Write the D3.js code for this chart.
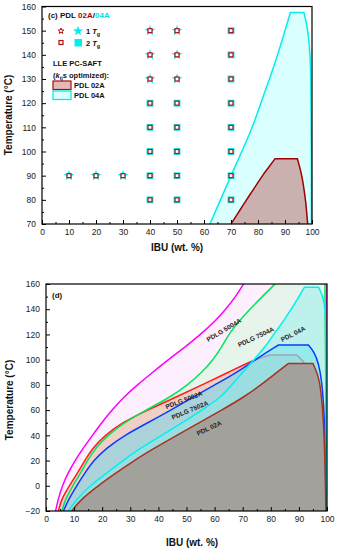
<!DOCTYPE html>
<html>
<head>
<meta charset="utf-8">
<script src="https://cdn.jsdelivr.net/npm/d3@7"></script>
<style>
  body { margin: 0; background: #fff; }
  text { font-family: "Liberation Sans", Arial, sans-serif; }
  .axis text { font-size: 8.5px; fill: #222; font-family: "Liberation Sans", Arial, sans-serif; }
  .axis line { stroke: #000; stroke-width: 1; }
  .axis path { display: none; }
</style>
</head>
<body>
<svg id="chart" width="337" height="550"></svg>
<script>
// ---- panel (c) data ----
const cXTicks = [0, 10, 20, 30, 40, 50, 60, 70, 80, 90, 100];
const cYTicks = [70, 80, 90, 100, 110, 120, 130, 140, 150, 160];
// experimental points: PDL 04A (cyan), PDL 02A (dark red)
const star04 = [[10, 90], [20, 90], [30, 90], [40, 130], [40, 140], [40, 150], [50, 130], [50, 140], [50, 150]];
const square04 = [[40, 80], [40, 90], [40, 100], [40, 110], [40, 120],
  [50, 80], [50, 90], [50, 100], [50, 110], [50, 120],
  [70, 80], [70, 90], [70, 100], [70, 110], [70, 120], [70, 130], [70, 140], [70, 150]];
const square02 = star04.concat(square04);
// LLE PC-SAFT boundaries [IBU wt%, T]: left branch and right branch (flat top joins them)
const c02Left = [[70, 70], [72.3, 74], [74.6, 78], [76.9, 82], [79.3, 86], [81.6, 90], [84, 93.5], [86.3, 97]];
const c02Right = [[94.6, 97], [95.6, 93], [96.4, 89], [97.1, 84], [97.7, 79], [98.1, 74], [98.4, 70]];
const c04Left = [[62.2, 70], [66.1, 80], [70, 90], [74, 100], [78, 110], [81, 120], [84.3, 130], [87.3, 140], [90, 150], [92, 157.5]];
const c04Right = [[97, 157.5], [98, 153], [98.8, 147], [99.3, 140], [99.6, 130], [99.75, 110], [99.8, 70]];

// ---- panel (d) data ----
const dXTicks = [0, 10, 20, 30, 40, 50, 60, 70, 80, 90, 100];
const dYTicks = [-20, 0, 20, 40, 60, 80, 100, 120, 140, 160];
const d5004Left = [[3.4, -20], [4.4, -10], [5.8, 0], [7.8, 10], [10.3, 20], [13.3, 30], [16.5, 40], [19.8, 50], [23.5, 60], [27.5, 70], [32.5, 80],
  [38, 90], [43.5, 100], [49.5, 110], [55, 120], [60, 130], [64, 140], [67.5, 150], [70.3, 160]];
const d7504Left = [[5.6, -20], [7, -10], [9.5, 0], [12.3, 10], [14.7, 20], [17.6, 30], [22, 40], [27.8, 50], [35.5, 60], [44, 70], [50.5, 80],
  [55.5, 90], [59.5, 100], [62.5, 110], [65, 120], [68.5, 130], [72.5, 140], [77, 150], [81.5, 160]];
const d5002Left = [[4.4, -20], [5.6, -10], [8.3, 0], [11.2, 10], [13.8, 20], [16.6, 30], [21, 40], [27, 50], [36, 60], [46, 70], [55.5, 80],
  [65, 90], [74, 100], [79.7, 103.7]];
const d5002Right = [[89.2, 103.7], [92.5, 97], [95.1, 84], [97.5, 60], [99, 20], [99.5, -20]];
const d7502Left = [[6.2, -20], [8.2, -10], [10.9, 0], [13.8, 10], [16.9, 20], [21.6, 30], [27.9, 40], [36.2, 50], [44.5, 60], [52, 70], [60, 80],
  [68, 90], [74.5, 100], [82.7, 111.6]];
const d7502Right = [[93.4, 111.6], [95.5, 106], [97, 97], [98.1, 84], [99, 60], [99.5, 20], [99.7, -20]];
const d04Left = [[7.9, -20], [11.2, -10], [15.6, 0], [21.6, 10], [27.3, 20], [33.7, 30], [41.2, 40], [48.6, 50], [55.5, 60], [62.2, 70], [66.1, 80],
  [70, 90], [74, 100], [78, 110], [81, 120], [84.3, 130], [87.3, 140], [90, 150], [92, 157.5]];
const d04Right = [[97, 157.5], [98, 153], [98.8, 147], [99.3, 140], [99.6, 130], [99.75, 100], [99.8, -20]];
const d02Left = [[9.1, -20], [12.8, -10], [18.5, 0], [24.8, 10], [31.3, 20], [38.7, 30], [46.5, 40], [54.5, 50], [62.5, 60], [70.2, 70], [76.5, 80],
  [82.2, 90], [86.3, 97]];
const d02Right = [[95, 97], [96.4, 90], [97.3, 83], [98, 72], [98.8, 50], [99.3, 20], [99.6, -20]];
const curveNames = ['PDLG 5004A', 'PDLG 7504A', 'PDL 04A', 'PDLG 5002A', 'PDLG 7502A', 'PDL 02A'];
// label anchor in data units + rotation
const curveLabelPos = [[63.3, 123.5, -31], [74.7, 118, -25], [87.9, 120.4, -27], [49.1, 68, -21], [51.2, 60, -23], [58, 45.8, -25]];

const svg = d3.select('#chart');

const xc = d3.scaleLinear().domain([0, 100]).range([42, 312]);
const yc = d3.scaleLinear().domain([70, 160]).range([224, 6.5]);
const xd = d3.scaleLinear().domain([0, 100]).range([46, 327]);
const yd = d3.scaleLinear().domain([-20, 160]).range([511, 284]);

function curvePath(pts, x, y) {
  return d3.line().x(d => x(d[0])).y(d => y(d[1])).curve(d3.curveBasis)(pts);
}
// left branch + flat top + right branch
function domePath(left, right, x, y) {
  let p = curvePath(left, x, y);
  if (right) p += curvePath(right, x, y).replace(/^M/, 'L');
  return p;
}

function starPath(r) {
  let p = [];
  for (let i = 0; i < 10; i++) {
    let a = -Math.PI / 2 + i * Math.PI / 5;
    let rr = i % 2 === 0 ? r : r * 0.42;
    p.push([rr * Math.cos(a), rr * Math.sin(a)]);
  }
  return 'M' + p.map(d => d.join(',')).join('L') + 'Z';
}

function drawAxes(x, y, xTicks, yTicks, xMinorStep, yMinorStep) {
  let x0 = x.range()[0], x1 = x.range()[1];
  let y0 = y.range()[0], y1 = y.range()[1];
  let xMinor = d3.range(x.domain()[0], x.domain()[1] + 0.01, xMinorStep).filter(v => xTicks.indexOf(v) < 0);
  let yMinor = d3.range(y.domain()[0], y.domain()[1] + 0.01, yMinorStep).filter(v => yTicks.indexOf(v) < 0);

  svg.append('g').attr('class', 'axis').attr('transform', 'translate(0,' + y0 + ')')
    .call(d3.axisBottom(x).tickValues(xTicks).tickSize(-4).tickSizeOuter(0).tickPadding(5));
  svg.append('g').attr('class', 'axis').attr('transform', 'translate(0,' + y0 + ')')
    .call(d3.axisBottom(x).tickValues(xMinor).tickSize(-2).tickSizeOuter(0).tickFormat(''));
  svg.append('g').attr('class', 'axis').attr('transform', 'translate(' + x0 + ',0)')
    .call(d3.axisLeft(y).tickValues(yTicks).tickSize(-4).tickSizeOuter(0).tickPadding(6));
  svg.append('g').attr('class', 'axis').attr('transform', 'translate(' + x0 + ',0)')
    .call(d3.axisLeft(y).tickValues(yMinor).tickSize(-2).tickSizeOuter(0).tickFormat(''));

  svg.append('rect')
    .attr('x', x0).attr('y', y1)
    .attr('width', x1 - x0).attr('height', y0 - y1)
    .attr('fill', 'none').attr('stroke', '#000').attr('stroke-width', 1.2);
}

// ================= panel (c) =================
svg.append('path')
  .attr('d', domePath(c04Left, c04Right, xc, yc) + 'Z')
  .attr('fill', '#00ffff').attr('fill-opacity', 0.15);
svg.append('path')
  .attr('d', domePath(c04Left, c04Right, xc, yc))
  .attr('fill', 'none').attr('stroke', '#00eeee').attr('stroke-width', 1.5);
svg.append('path')
  .attr('d', domePath(c02Left, c02Right, xc, yc) + 'Z')
  .attr('fill', '#b01010').attr('fill-opacity', 0.33);
svg.append('path')
  .attr('d', domePath(c02Left, c02Right, xc, yc))
  .attr('fill', 'none').attr('stroke', '#a00000').attr('stroke-width', 1.5);

drawAxes(xc, yc, cXTicks, cYTicks, 5, 5);

// markers
svg.append('g').selectAll('path')
  .data(star04).join('path')
  .attr('d', starPath(5.6))
  .attr('fill', '#00f0f0')
  .attr('transform', d => 'translate(' + xc(d[0]) + ',' + yc(d[1]) + ')');
svg.append('g').selectAll('rect')
  .data(square04).join('rect')
  .attr('x', d => xc(d[0]) - 3.4).attr('y', d => yc(d[1]) - 3.4)
  .attr('width', 6.8).attr('height', 6.8)
  .attr('fill', '#00f0f0');
svg.append('g').selectAll('rect')
  .data(square02).join('rect')
  .attr('x', d => xc(d[0]) - 2).attr('y', d => yc(d[1]) - 2)
  .attr('width', 4).attr('height', 4)
  .attr('fill', '#fff').attr('stroke', '#b01010').attr('stroke-width', 1.2);

// panel (c) title
let tc = svg.append('text').attr('x', 48).attr('y', 18)
  .attr('font-size', 8).attr('font-weight', 'bold');
tc.append('tspan').attr('fill', '#111').text('(c) PDL ');
tc.append('tspan').attr('fill', '#b00000').text('02A');
tc.append('tspan').attr('fill', '#111').text('/');
tc.append('tspan').attr('fill', '#00e0e8').text('04A');

// legend
svg.append('path').attr('d', starPath(3))
  .attr('fill', '#fff').attr('stroke', '#b01010').attr('stroke-width', 1)
  .attr('transform', 'translate(61,31)');
svg.append('path').attr('d', starPath(5.2))
  .attr('fill', '#00f0f0')
  .attr('transform', 'translate(78,31)');
svg.append('rect').attr('x', 59).attr('y', 40.5).attr('width', 4).attr('height', 4)
  .attr('fill', '#fff').attr('stroke', '#b01010').attr('stroke-width', 1.2);
svg.append('rect').attr('x', 74.5).attr('y', 39).attr('width', 7.5).attr('height', 7.5)
  .attr('fill', '#00f0f0');

const tgRows = ['1 ', '2 '];
tgRows.forEach(function(lbl, i) {
  let t = svg.append('text').attr('x', 86).attr('y', 34 + i * 12)
    .attr('font-size', 7.5).attr('font-weight', 'bold').attr('fill', '#111');
  t.append('tspan').text(lbl);
  t.append('tspan').attr('font-style', 'italic').text('T');
  t.append('tspan').attr('font-size', 5.5).attr('dy', 2).text('g');
});

svg.append('text').attr('x', 53).attr('y', 66)
  .attr('font-size', 7.5).attr('font-weight', 'bold').attr('fill', '#111')
  .text('LLE PC-SAFT');
let kt = svg.append('text').attr('x', 53).attr('y', 78)
  .attr('font-size', 7.5).attr('font-weight', 'bold').attr('fill', '#111');
kt.append('tspan').text('(');
kt.append('tspan').attr('font-style', 'italic').text('k');
kt.append('tspan').attr('font-size', 5.5).attr('dy', 2).text('ij');
kt.append('tspan').attr('dy', -2).text('s optimized):');

svg.append('rect').attr('x', 53).attr('y', 81).attr('width', 18).attr('height', 8.5)
  .attr('fill', '#b01010').attr('fill-opacity', 0.3)
  .attr('stroke', '#a01010').attr('stroke-width', 1.2);
svg.append('rect').attr('x', 53).attr('y', 91).attr('width', 18).attr('height', 8.5)
  .attr('fill', '#00ffff').attr('fill-opacity', 0.15)
  .attr('stroke', '#00e8e8').attr('stroke-width', 1.2);
svg.append('text').attr('x', 74).attr('y', 88)
  .attr('font-size', 7.5).attr('font-weight', 'bold').attr('fill', '#111').text('PDL 02A');
svg.append('text').attr('x', 74).attr('y', 98)
  .attr('font-size', 7.5).attr('font-weight', 'bold').attr('fill', '#111').text('PDL 04A');

// axis titles (c)
svg.append('text').attr('transform', 'translate(12,115) rotate(-90)')
  .attr('text-anchor', 'middle').attr('font-size', 10).attr('font-weight', 'bold').attr('fill', '#111')
  .text('Temperature (°C)');
svg.append('text').attr('x', 177).attr('y', 251)
  .attr('text-anchor', 'middle').attr('font-size', 10).attr('font-weight', 'bold').attr('fill', '#111')
  .text('IBU (wt. %)');

// ================= panel (d) =================
svg.append('clipPath').attr('id', 'clipd')
  .append('rect').attr('x', 46).attr('y', 284).attr('width', 281).attr('height', 227);
const gd = svg.append('g').attr('clip-path', 'url(#clipd)');

// open regions: left curve, then across the top to the right edge line
function openRegion(pts, xTop, xBottom) {
  return curvePath(pts, xd, yd) +
    'L' + xd(xTop) + ',' + yd(160) +
    'L' + xd(xBottom) + ',' + yd(-20) + 'Z';
}

gd.append('path').attr('d', openRegion(d5004Left, 99.7, 99.7))
  .attr('fill', '#f5b0f5').attr('fill-opacity', 0.2);
gd.append('path').attr('d', openRegion(d7504Left, 99.2, 99.9))
  .attr('fill', '#b7ffc4').attr('fill-opacity', 0.3);
gd.append('path').attr('d', domePath(d5002Left, d5002Right, xd, yd) + 'Z')
  .attr('fill', '#ff998d').attr('fill-opacity', 0.4);
gd.append('path').attr('d', domePath(d5002Left, d5002Right, xd, yd))
  .attr('fill', 'none').attr('stroke', '#ff1a1a').attr('stroke-width', 1.5);
gd.append('path').attr('d', domePath(d7502Left, d7502Right, xd, yd) + 'Z')
  .attr('fill', '#6ad8f0').attr('fill-opacity', 0.5);
gd.append('path').attr('d', domePath(d04Left, d04Right, xd, yd) + 'Z')
  .attr('fill', '#7df0ec').attr('fill-opacity', 0.4);
gd.append('path').attr('d', domePath(d02Left, d02Right, xd, yd) + 'Z')
  .attr('fill', '#a39e99').attr('fill-opacity', 0.96);

// lines on top
gd.append('path').attr('d', curvePath(d5004Left, xd, yd))
  .attr('fill', 'none').attr('stroke', '#ff00ff').attr('stroke-width', 1.5);
gd.append('line').attr('x1', xd(99.7)).attr('x2', xd(99.7)).attr('y1', yd(160)).attr('y2', yd(-20))
  .attr('stroke', '#ff00ff').attr('stroke-width', 1.2);
gd.append('path').attr('d', curvePath(d7504Left, xd, yd))
  .attr('fill', 'none').attr('stroke', '#00e65c').attr('stroke-width', 1.5);
gd.append('line').attr('x1', xd(99.2)).attr('x2', xd(99.9)).attr('y1', yd(160)).attr('y2', yd(-20))
  .attr('stroke', '#00e65c').attr('stroke-width', 1.2);
gd.append('path').attr('d', domePath(d7502Left, d7502Right, xd, yd))
  .attr('fill', 'none').attr('stroke', '#0a3cff').attr('stroke-width', 1.5);
gd.append('path').attr('d', domePath(d04Left, d04Right, xd, yd))
  .attr('fill', 'none').attr('stroke', '#00f0f0').attr('stroke-width', 1.5);
gd.append('path').attr('d', domePath(d02Left, d02Right, xd, yd))
  .attr('fill', 'none').attr('stroke', '#a8321c').attr('stroke-width', 1.5);

// curve labels
gd.selectAll('text.curvelbl')
  .data(curveNames).join('text')
  .attr('class', 'curvelbl')
  .attr('transform', (d, i) => 'translate(' + xd(curveLabelPos[i][0]) + ',' + yd(curveLabelPos[i][1]) + ') rotate(' + curveLabelPos[i][2] + ')')
  .attr('text-anchor', 'middle')
  .attr('dy', '0.35em')
  .attr('font-size', 6.5).attr('font-weight', 'bold').attr('fill', '#222')
  .text(d => d);

drawAxes(xd, yd, dXTicks, dYTicks, 5, 10);

svg.append('text').attr('x', 52).attr('y', 298)
  .attr('font-size', 8).attr('font-weight', 'bold').attr('fill', '#111').text('(d)');

svg.append('text').attr('transform', 'translate(13,400) rotate(-90)')
  .attr('text-anchor', 'middle').attr('font-size', 10).attr('font-weight', 'bold').attr('fill', '#111')
  .text('Temperature (°C)');
svg.append('text').attr('x', 192).attr('y', 546)
  .attr('text-anchor', 'middle').attr('font-size', 10).attr('font-weight', 'bold').attr('fill', '#111')
  .text('IBU (wt. %)');
</script>
</body>
</html>
